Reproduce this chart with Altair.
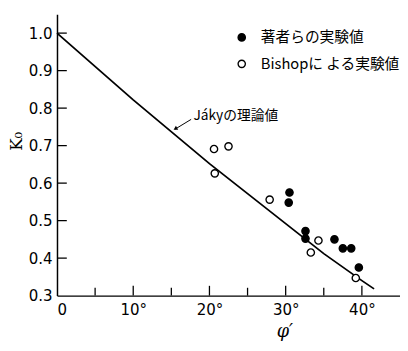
import altair as alt
import pandas as pd

# Jáky theoretical curve
phi_line = [0, 10, 20, 25, 30, 35, 40, 41.6]
k_line = [1.0, 0.822, 0.652, 0.572, 0.492, 0.412, 0.34, 0.318]

# authors' experimental values (filled)
phi_auth = [30.5, 30.4, 32.6, 32.6, 36.4, 37.5, 38.6, 39.6]
k_auth = [0.575, 0.548, 0.472, 0.452, 0.450, 0.426, 0.426, 0.375]

# Bishop's experimental values (open)
phi_bish = [20.6, 22.5, 20.7, 27.9, 34.3, 33.3, 39.2]
k_bish = [0.691, 0.698, 0.626, 0.556, 0.447, 0.415, 0.347]

series_names = ["著者らの実験値", "Bishopに よる実験値"]

y_ticks = [0.3, 0.4, 0.5, 0.6, 0.7, 0.8, 0.9, 1.0]
x_major = [0, 10, 20, 30, 40]
x_minor = [5, 15, 25, 35]

W, H = 350, 287
FONT = "DejaVu Sans Condensed"
JFONT = "Noto Sans CJK JP"

line_df = pd.DataFrame({"phi": phi_line, "k": k_line})
pts_df = pd.concat([
    pd.DataFrame({"phi": phi_auth, "k": k_auth, "s": series_names[0]}),
    pd.DataFrame({"phi": phi_bish, "k": k_bish, "s": series_names[1]}),
])

xs = alt.Scale(domain=[0, 45], nice=False)
ys = alt.Scale(domain=[0.3, 1.05], nice=False, zero=False)

xaxis = alt.Axis(values=x_major, labelExpr="datum.value == 0 ? '0' : datum.value + '°'",
                 ticks=False, grid=False, domainColor="black", domainWidth=1.5,
                 labelFont=FONT, labelFontSize=17, labelColor="black", labelPadding=6,
                 title="φ′", titleFont="DejaVu Serif", titleFontSize=18, titleFontStyle="italic",
                 titleFontWeight="normal", titleX=232, titleY=37, titleBaseline="middle",
                 titleColor="black")
yaxis = alt.Axis(values=y_ticks, format=".1f", ticks=False, grid=False,
                 domainColor="black", domainWidth=1.5,
                 labelFont=FONT, labelFontSize=17, labelColor="black", labelPadding=5,
                 title="K₀", titleFont="DejaVu Serif", titleFontSize=17, titleFontWeight="normal",
                 titleX=-41, titleY=129, titleBaseline="middle", titleColor="black")

line = alt.Chart(line_df).mark_line(color="black", strokeWidth=1.8).encode(
    x=alt.X("phi:Q", scale=xs, axis=xaxis),
    y=alt.Y("k:Q", scale=ys, axis=yaxis),
)

pts = alt.Chart(pts_df).mark_point(filled=True, size=55, stroke="black", strokeWidth=1.4, opacity=1).encode(
    x=alt.X("phi:Q", scale=xs),
    y=alt.Y("k:Q", scale=ys),
    fill=alt.Fill("s:N", scale=alt.Scale(domain=series_names, range=["black", "white"]),
                  legend=alt.Legend(title=None, orient="none", legendX=181, legendY=16,
                                    symbolType="circle", symbolSize=55, symbolStrokeColor="black",
                                    symbolStrokeWidth=1.4, labelFont=JFONT, labelFontSize=15,
                                    labelColor="black", rowPadding=11, labelOffset=12)),
)

ytick_df = pd.DataFrame({"k": y_ticks[1:]})
yt = alt.Chart(ytick_df).mark_rule(color="black", strokeWidth=1.3).encode(
    y=alt.Y("k:Q", scale=ys), x=alt.value(0), x2=alt.value(10))

xmaj_df = pd.DataFrame({"phi": x_major[1:]})
xt = alt.Chart(xmaj_df).mark_rule(color="black", strokeWidth=1.3).encode(
    x=alt.X("phi:Q", scale=xs), y=alt.value(H), y2=alt.value(H - 10))
xmin_df = pd.DataFrame({"phi": x_minor})
xm = alt.Chart(xmin_df).mark_rule(color="black", strokeWidth=1.3).encode(
    x=alt.X("phi:Q", scale=xs), y=alt.value(H), y2=alt.value(H - 8))

# annotation
ann_df = pd.DataFrame({"phi": [17.9], "k": [0.778], "t": ["Jákyの理論値"]})
ann = alt.Chart(ann_df).mark_text(align="left", baseline="middle", font=JFONT, fontSize=14,
                                  color="black").encode(
    x=alt.X("phi:Q", scale=xs), y=alt.Y("k:Q", scale=ys), text="t:N")
arr_df = pd.DataFrame({"phi": [17.6], "k": [0.770], "phi2": [15.5], "k2": [0.744]})
arr = alt.Chart(arr_df).mark_rule(color="black", strokeWidth=1).encode(
    x=alt.X("phi:Q", scale=xs), y=alt.Y("k:Q", scale=ys), x2="phi2:Q", y2="k2:Q")
head_df = pd.DataFrame({"phi": [15.6], "k": [0.746]})
head = alt.Chart(head_df).mark_point(shape="triangle", filled=True, size=22, angle=240,
                                     color="black", opacity=1).encode(
    x=alt.X("phi:Q", scale=xs), y=alt.Y("k:Q", scale=ys))

chart = alt.layer(line, yt, xt, xm, arr, head, ann, pts).properties(
    width=W, height=H,
    autosize=alt.AutoSizeParams(type="none"),
    padding={"left": 50, "top": 3, "right": 0, "bottom": 52},
    background="white",
).configure_view(stroke=None)

chart.save("out.html", embed_options={"renderer": "svg", "actions": False})
